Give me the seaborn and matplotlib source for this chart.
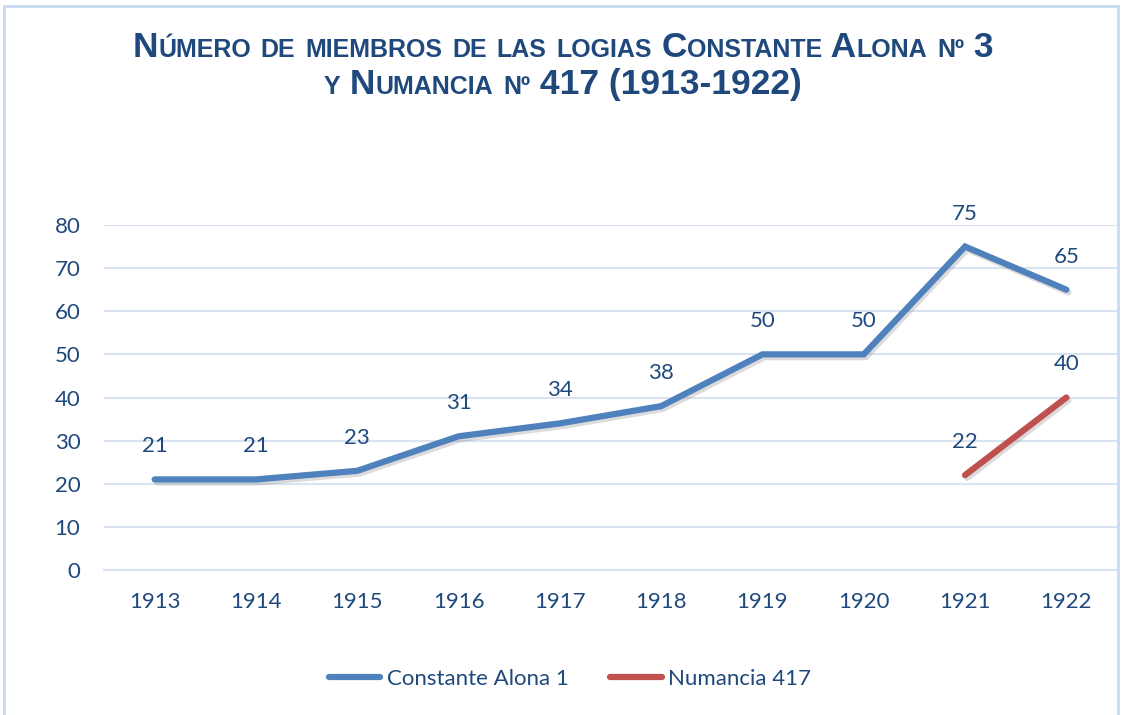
import matplotlib
matplotlib.use("Agg")
import matplotlib.pyplot as plt
import matplotlib.patheffects as pe
from matplotlib.patches import Rectangle
from matplotlib.lines import Line2D
from matplotlib import font_manager
import seaborn as sns
import pandas as pd
import numpy as np

years = ["1913", "1914", "1915", "1916", "1917", "1918", "1919", "1920", "1921", "1922"]
constante = [21, 21, 23, 31, 34, 38, 50, 50, 75, 65]
numancia = [None, None, None, None, None, None, None, None, 22, 40]
series_names = ["Constante Alona 1", "Numancia 417"]
title_lines = ["Número de miembros de las logias Constante Alona nº 3",
               "y Numancia nº 417 (1913-1922)"]
yticks = [0, 10, 20, 30, 40, 50, 60, 70, 80]

BLUE = "#4F81BD"
RED = "#C0504D"
TXT = "#1F497D"
GRID = "#D9E3F1"

sns.set_theme(style="white")
avail = {f.name for f in font_manager.fontManager.ttflist}
body_font = "Lato" if "Lato" in avail else "DejaVu Sans"
title_font = "Liberation Sans Narrow" if "Liberation Sans Narrow" in avail else "Liberation Sans"
plt.rcParams["font.family"] = [body_font, "DejaVu Sans"]

fig = plt.figure(figsize=(11.24, 7.15), dpi=100)
fig.patch.set_facecolor("white")
fig.patches.append(Rectangle((4 / 1124, -0.01), 1114 / 1124, 1 - 6 / 715 + 0.01,
                             transform=fig.transFigure, fill=False,
                             edgecolor="#C9DAF0", linewidth=2.0))

ax = fig.add_axes([104 / 1124, 1 - 570 / 715, (1117 - 104) / 1124, (570 - 225) / 715])

df = pd.DataFrame({"year": years, series_names[0]: constante, series_names[1]: numancia})
long = df.melt(id_vars="year", var_name="serie", value_name="value")
long["x"] = long["year"].map({y: i for i, y in enumerate(years)})

shadow = [pe.SimpleLineShadow(offset=(1.5, -2), shadow_color="#808080", alpha=0.28), pe.Normal()]
sns.lineplot(data=long.dropna(), x="x", y="value", hue="serie", hue_order=series_names,
             palette=[BLUE, RED], linewidth=4.5, ax=ax, legend=False,
             solid_capstyle="round", solid_joinstyle="miter", path_effects=shadow)

ax.set_xlim(-0.5, 9.5)
ax.set_ylim(0, 80)
ax.set_yticks(yticks)
ax.set_yticklabels([str(v) for v in yticks])
ax.set_xticks(range(len(years)))
ax.set_xticklabels(years)
ax.set_xlabel("")
ax.set_ylabel("")
ax.tick_params(axis="both", length=0, labelsize=16, labelcolor=TXT)
ax.tick_params(axis="x", pad=16)
ax.tick_params(axis="y", pad=17)
ax.set_xticks(np.arange(-0.5, 10, 1), minor=True)
ax.tick_params(axis="x", which="minor", length=7, width=1.5, color=GRID, direction="out")
ax.grid(axis="y", color=GRID, linewidth=1.5)
ax.set_axisbelow(True)
for s in ["top", "right", "left"]:
    ax.spines[s].set_visible(False)
ax.spines["bottom"].set_color(GRID)
ax.spines["bottom"].set_linewidth(1.5)

for serie_vals in (constante, numancia):
    for i, v in enumerate(serie_vals):
        if v is None:
            continue
        ax.annotate(str(v), (i, v), xytext=(0, 33), textcoords="offset pixels",
                    ha="center", va="center", fontsize=16, color=TXT, annotation_clip=False)

handles = [Line2D([0], [0], color=BLUE, lw=4.5, solid_capstyle="round"),
           Line2D([0], [0], color=RED, lw=4.5, solid_capstyle="round")]
leg = fig.legend(handles, series_names, loc="center", bbox_to_anchor=(570 / 1124, 1 - 679 / 715),
                 ncol=2, frameon=False, fontsize=16, handlelength=2.3, handletextpad=0.3,
                 columnspacing=1.9)
for t in leg.get_texts():
    t.set_color(TXT)

# small-caps title
fig.canvas.draw()
renderer = fig.canvas.get_renderer()
BIG, SMALL = 25.5, 18


def runs_of(s):
    out = []
    for ch in s:
        seg = (ch.upper(), SMALL) if ch.islower() else (ch, BIG)
        if out and out[-1][1] == seg[1]:
            out[-1] = (out[-1][0] + seg[0], seg[1])
        else:
            out.append(seg)
    return out


def draw_smallcaps(s, base_px):
    parts = runs_of(s)
    widths = []
    for txt, size in parts:
        t = fig.text(0, 0, txt, fontsize=size, fontweight="bold", family=title_font)
        widths.append(t.get_window_extent(renderer).width)
        t.remove()
    x = 563 - sum(widths) / 2
    for (txt, size), w in zip(parts, widths):
        fig.text(x / 1124, 1 - base_px / 715, txt, fontsize=size, fontweight="bold",
                 family=title_font, color=TXT, ha="left", va="baseline")
        x += w


draw_smallcaps(title_lines[0], 57)
draw_smallcaps(title_lines[1], 94)

fig.savefig("out.png", dpi=100, facecolor="white")
